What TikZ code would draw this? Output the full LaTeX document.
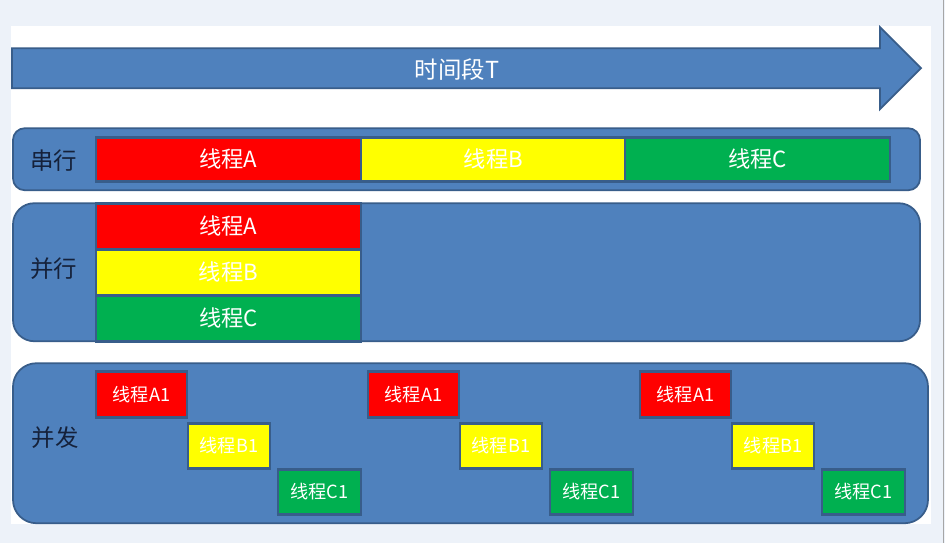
\documentclass[tikz,border=0pt]{standalone}
\usepackage{fontspec}
\setmainfont{Noto Sans CJK SC}
\definecolor{lanefill}{HTML}{4F81BD}
\definecolor{laneline}{HTML}{385D8A}
\definecolor{thrA}{HTML}{FF0000}
\definecolor{thrB}{HTML}{FFFF00}
\definecolor{thrC}{HTML}{00B050}
\definecolor{pagebg}{HTML}{EDF2F9}
\definecolor{labelink}{HTML}{15213A}
\begin{document}
\begin{tikzpicture}[x=0.03cm, y=-0.03cm,
  lane/.style={fill=lanefill, draw=laneline, line width=1.5pt},
  thread/.style={draw=laneline, line width=2.2pt},
  big/.style={text=white, font=\fontsize{19}{22}\selectfont},
  small/.style={text=white, font=\fontsize{15.5}{18}\selectfont},
  lanelabel/.style={text=labelink, font=\fontsize{20}{23}\selectfont}]
  \fill[pagebg] (0,0) rectangle (945,543);
  \fill[white] (11,26) rectangle (931,524);
  \draw[gray!70] (943,0) -- (943,543);
  % time axis
  \draw[lane] (12,48) -- (880,48) -- (880,27) -- (921,68) -- (880,109) -- (880,88) -- (12,88) -- cycle;
  \node[big, font=\fontsize{20}{23}\selectfont] (time) at (457,69) {时间段T};
  % serial
  \draw[lane, rounded corners=10pt] (13,128) rectangle (920,190);
  \node[lanelabel] (serial) at (54,160) {串行};
  \foreach \x/\c/\t in {96/thrA/A, 361/thrB/B, 625/thrC/C}
    \draw[thread, fill=\c] (\x,137) rectangle ++(265,44) node[midway, big] (s\t) {线程\t};
  % parallel
  \draw[lane, rounded corners=18pt] (13,203) rectangle (920,341);
  \node[lanelabel] (parallel) at (54,268) {并行};
  \foreach \y/\c/\t in {203/thrA/A, 249/thrB/B, 295/thrC/C}
    \draw[thread, fill=\c] (96,\y) rectangle ++(265,46) node[midway, big] (p\t) {线程\t};
  % concurrent
  \draw[lane, rounded corners=20pt] (13,363) rectangle (928,523);
  \node[lanelabel] (concurrent) at (55,437) {并发};
  \foreach \g in {0,1,2} {
    \draw[thread, fill=thrA] ({96+272*\g},371) rectangle ++(91,46) node[midway, small] (cA\g) {线程A1};
    \draw[thread, fill=thrB] ({188+272*\g},423) rectangle ++(82,45) node[midway, small] (cB\g) {线程B1};
    \draw[thread, fill=thrC] ({278+272*\g},469) rectangle ++(83,45) node[midway, small] (cC\g) {线程C1};
  }
\end{tikzpicture}
\end{document}
